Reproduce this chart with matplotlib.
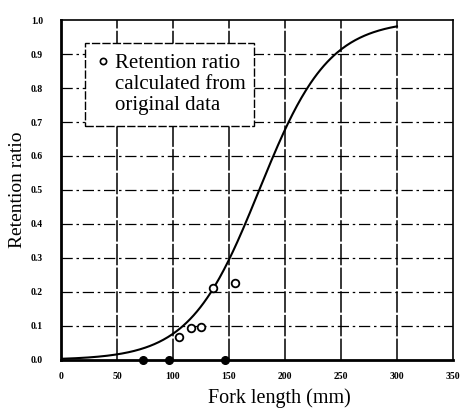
import numpy as np
import matplotlib
matplotlib.use("Agg")
import matplotlib.pyplot as plt

# Observed retention ratios by fork length
obs_length = [105, 116, 125, 136, 155]
obs_ratio = [0.066, 0.095, 0.097, 0.213, 0.226]
# Fork lengths with zero retention
zero_length = [73, 96, 146]
zero_ratio = [0.0, 0.0, 0.0]

# Logistic selection curve parameters
L50 = 177.0
slope = 31.0
curve_start, curve_end = 0, 300

x_ticks = [0, 50, 100, 150, 200, 250, 300, 350]
y_ticks = [0.0, 0.1, 0.2, 0.3, 0.4, 0.5, 0.6, 0.7, 0.8, 0.9, 1.0]
y_tick_labels = ["0.0", "0.1", "0.2", "0.3", "0.4", "0.5", "0.6", "0.7", "0.8", "0.9", "1.0"]

serif = ["Liberation Serif", "DejaVu Serif"]

fig = plt.figure(figsize=(4.66, 4.09), dpi=100)
ax = fig.add_axes([0.131, 0.12, 0.841, 0.831])

ax.set_xlim(0, 350)
ax.set_ylim(0, 1.0)

# grid lines drawn by hand in a dash-dot style
for yv in y_ticks[1:-1]:
    ax.axhline(yv, color="black", lw=0.9, ls=(0, (9, 3, 2, 3)), zorder=1)
for xv in x_ticks[1:-1]:
    ax.axvline(xv, color="black", lw=1.1, ls=(0, (14, 1.5)), zorder=1)

xs = np.linspace(curve_start, curve_end, 300)
ys = 1.0 / (1.0 + np.exp(-(xs - L50) / slope))
ax.plot(xs, ys, color="black", lw=1.5, zorder=3)

ax.plot(obs_length, obs_ratio, ls="none", marker="o", ms=5.5, mfc="white",
        mec="black", mew=1.3, zorder=4)
ax.plot(zero_length, zero_ratio, ls="none", marker="o", ms=5.5, mfc="black",
        mec="black", mew=1.0, zorder=4, clip_on=False)

for side in ["left", "bottom"]:
    ax.spines[side].set_linewidth(2.0)
for side in ["right", "top"]:
    ax.spines[side].set_linewidth(1.2)

ax.set_xticks(x_ticks)
ax.set_xticklabels([str(v) for v in x_ticks], fontsize=7, fontweight="bold", family=serif)
ax.set_yticks(y_ticks)
ax.set_yticklabels(y_tick_labels, fontsize=7, fontweight="bold", family=serif)
ax.tick_params(length=0, pad=9)
ax.tick_params(axis="y", pad=13)

ax.set_xlabel("Fork length (mm)", fontsize=14.5, family=serif)
ax.xaxis.set_label_coords(0.556, -0.111)
ax.xaxis.label.set_va("center")
ax.set_ylabel("Retention ratio", fontsize=14, family=serif)
ax.yaxis.set_label_coords(-0.112, 0.5)
ax.yaxis.label.set_va("center")

# legend box
box = plt.Rectangle((21.5, 0.688), 150.5, 0.244, transform=ax.transData,
                    facecolor="white", edgecolor="black", lw=1.0,
                    ls=(0, (6, 1.5)), zorder=5)
ax.add_patch(box)
ax.plot([37.5], [0.879], ls="none", marker="o", ms=4.5,
        mfc="white", mec="black", mew=1.2, zorder=6)
ax.text(48.0, 0.899, "Retention ratio\ncalculated from\noriginal data",
        fontsize=15, family=serif, va="top", ha="left", linespacing=1.12,
        zorder=6)

fig.savefig("out.png", dpi=100)
